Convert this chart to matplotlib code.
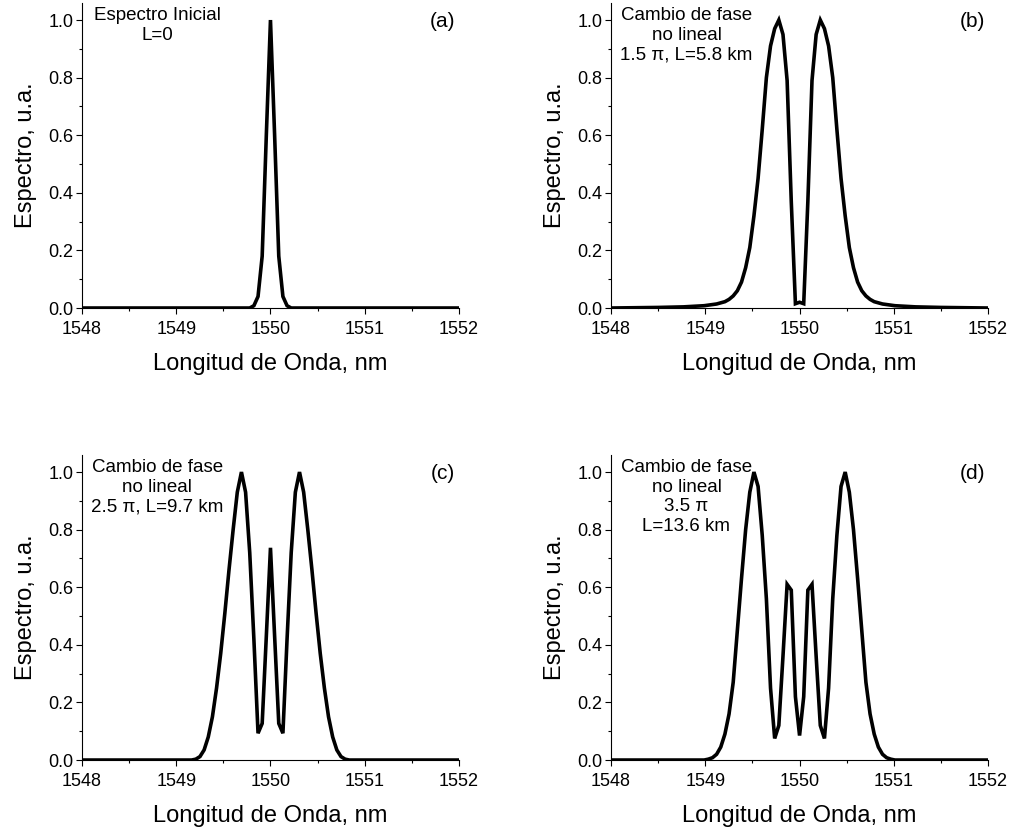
"""
Espectro de un pulso con automodulación de fase (cuatro paneles)

(a) espectro inicial, L=0
(b) cambio de fase no lineal 1.5 pi, L=5.8 km
(c) cambio de fase no lineal 2.5 pi, L=9.7 km
(d) cambio de fase no lineal 3.5 pi, L=13.6 km
"""
import numpy as np
import matplotlib.pyplot as plt
from matplotlib.ticker import MultipleLocator

plt.rcParams['font.family'] = ['Liberation Sans', 'DejaVu Sans']

# (a) espectro inicial
onda_a = [1548.0, 1549.78, 1549.824, 1549.868, 1549.912, 1549.956, 1550.0,
          1550.044, 1550.088, 1550.132, 1550.176, 1550.22, 1552.0]
esp_a = [0.0, 0.0, 0.008, 0.04, 0.18, 0.6, 1.0,
         0.6, 0.18, 0.04, 0.008, 0.0, 0.0]

# (b) 1.5 pi
onda_b = [1548.0, 1548.5, 1548.77, 1548.988, 1549.12, 1549.208, 1549.252,
          1549.296, 1549.34, 1549.384, 1549.428, 1549.472, 1549.516, 1549.56,
          1549.604, 1549.648, 1549.692, 1549.736, 1549.78, 1549.824, 1549.868,
          1549.912, 1549.956, 1550.0, 1550.044, 1550.088, 1550.132, 1550.176,
          1550.22, 1550.264, 1550.308, 1550.352, 1550.396, 1550.44, 1550.484,
          1550.528, 1550.572, 1550.616, 1550.66, 1550.704, 1550.748, 1550.792,
          1550.88, 1551.012, 1551.23, 1551.5, 1552.0]
esp_b = [0.0, 0.002, 0.004, 0.008, 0.014, 0.022, 0.03,
         0.042, 0.06, 0.09, 0.14, 0.21, 0.32, 0.45,
         0.62, 0.80, 0.91, 0.97, 1.0, 0.95, 0.79,
         0.37, 0.015, 0.02, 0.015, 0.37, 0.79, 0.95,
         1.0, 0.97, 0.91, 0.80, 0.62, 0.45, 0.32,
         0.21, 0.14, 0.09, 0.06, 0.042, 0.03, 0.022,
         0.014, 0.008, 0.004, 0.002, 0.0]

# (c) 2.5 pi
onda_c = [1548.0, 1549.164, 1549.208, 1549.252, 1549.296, 1549.34, 1549.384,
          1549.428, 1549.472, 1549.516, 1549.56, 1549.604, 1549.648, 1549.692,
          1549.736, 1549.78, 1549.824, 1549.868, 1549.912, 1549.956, 1550.0,
          1550.044, 1550.088, 1550.132, 1550.176, 1550.22, 1550.264, 1550.308,
          1550.352, 1550.396, 1550.44, 1550.484, 1550.528, 1550.572, 1550.616,
          1550.66, 1550.704, 1550.748, 1550.792, 1550.836, 1552.0]
esp_c = [0.0, 0.0, 0.003, 0.012, 0.035, 0.08, 0.15,
         0.25, 0.37, 0.51, 0.66, 0.80, 0.93, 1.0,
         0.93, 0.72, 0.42, 0.093, 0.127, 0.43, 0.737,
         0.43, 0.127, 0.093, 0.42, 0.72, 0.93, 1.0,
         0.93, 0.80, 0.66, 0.51, 0.37, 0.25, 0.15,
         0.08, 0.035, 0.012, 0.003, 0.0, 0.0]

# (d) 3.5 pi
onda_d = [1548.0, 1548.988, 1549.032, 1549.076, 1549.12, 1549.164, 1549.208,
          1549.252, 1549.296, 1549.34, 1549.384, 1549.428, 1549.472, 1549.516,
          1549.56, 1549.604, 1549.648, 1549.692, 1549.736, 1549.78, 1549.824,
          1549.868, 1549.912, 1549.956, 1550.0, 1550.044, 1550.088, 1550.132,
          1550.176, 1550.22, 1550.264, 1550.308, 1550.352, 1550.396, 1550.44,
          1550.484, 1550.528, 1550.572, 1550.616, 1550.66, 1550.704, 1550.748,
          1550.792, 1550.836, 1550.88, 1550.924, 1550.968, 1551.012, 1552.0]
esp_d = [0.0, 0.0, 0.003, 0.008, 0.02, 0.045, 0.09,
         0.16, 0.27, 0.45, 0.63, 0.80, 0.93, 1.0,
         0.95, 0.78, 0.56, 0.25, 0.075, 0.12, 0.36,
         0.61, 0.59, 0.22, 0.085, 0.22, 0.59, 0.61,
         0.36, 0.12, 0.075, 0.25, 0.56, 0.78, 0.95,
         1.0, 0.93, 0.80, 0.63, 0.45, 0.27, 0.16,
         0.09, 0.045, 0.02, 0.008, 0.003, 0.0, 0.0]

etiquetas = ['(a)', '(b)', '(c)', '(d)']
textos = ['Espectro Inicial\nL=0',
          'Cambio de fase\nno lineal\n1.5 \u03c0, L=5.8 km',
          'Cambio de fase\nno lineal\n2.5 \u03c0, L=9.7 km',
          'Cambio de fase\nno lineal\n3.5 \u03c0\nL=13.6 km']
series = [(onda_a, esp_a), (onda_b, esp_b), (onda_c, esp_c), (onda_d, esp_d)]

fig = plt.figure(figsize=(10.13, 8.3), dpi=100)
posiciones = [[0.0809, 0.6289, 0.3722, 0.3678],
              [0.6032, 0.6289, 0.3722, 0.3678],
              [0.0809, 0.0843, 0.3722, 0.3678],
              [0.6032, 0.0843, 0.3722, 0.3678]]

for pos, (x, y), etq, txt in zip(posiciones, series, etiquetas, textos):
    ax = fig.add_axes(pos)
    ax.plot(x, y, color='black', linewidth=2.6, solid_joinstyle='miter')
    ax.set_xlim(1548, 1552)
    ax.set_ylim(0, 1.06)
    ax.spines['top'].set_visible(False)
    ax.spines['right'].set_visible(False)
    for s in ['left', 'bottom']:
        ax.spines[s].set_linewidth(0.8)
    ax.xaxis.set_major_locator(MultipleLocator(1))
    ax.xaxis.set_minor_locator(MultipleLocator(0.5))
    ax.yaxis.set_major_locator(MultipleLocator(0.2))
    ax.yaxis.set_minor_locator(MultipleLocator(0.1))
    ax.tick_params(which='major', direction='out', length=4, width=0.8,
                   labelsize=13, pad=2)
    ax.tick_params(axis='x', which='major', pad=5)
    ax.tick_params(which='minor', direction='out', length=2.5, width=0.8)
    ax.yaxis.set_major_formatter(plt.FormatStrFormatter('%.1f'))
    ax.set_xlabel('Longitud de Onda, nm', fontsize=17, labelpad=11)
    ax.set_ylabel('Espectro, u.a.', fontsize=17, labelpad=8)
    ax.text(1548.8, 1.045, txt, ha='center', va='top', fontsize=13.5,
            linespacing=1.2)
    ax.text(1551.83, 0.995, etq, ha='center', va='center', fontsize=15)

plt.savefig('out.png', dpi=100)
plt.close()
